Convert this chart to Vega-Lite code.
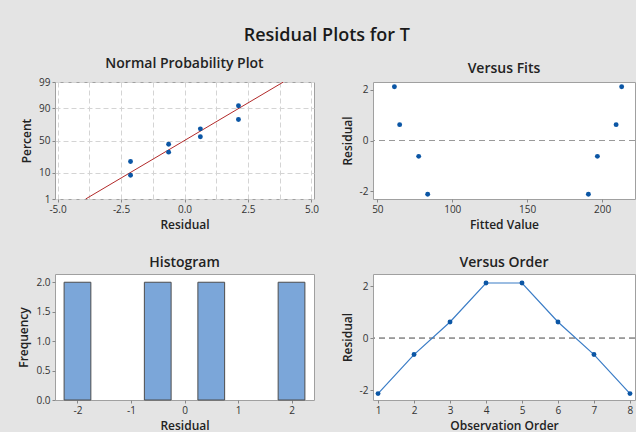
{
  "$schema": "https://vega.github.io/schema/vega-lite/v6.json",
  "background": "#e4e4e4",
  "padding": {"left": 17, "top": 26, "right": 0, "bottom": 0},
  "title": {"text": "Residual Plots for T", "fontSize": 18, "fontWeight": 600, "color": "#1a1a1a", "anchor": "middle", "offset": 12},
  "datasets": {
    "resid": [
      {"order": 1, "fit": 83.6, "residual": -2.125, "z": -0.833, "percent": 20.24},
      {"order": 2, "fit": 77.6, "residual": -0.625, "z": -0.150, "percent": 44.05},
      {"order": 3, "fit": 64.9, "residual": 0.625, "z": 0.150, "percent": 55.95},
      {"order": 4, "fit": 61.4, "residual": 2.125, "z": 0.833, "percent": 79.76},
      {"order": 5, "fit": 213.1, "residual": 2.125, "z": 1.383, "percent": 91.67},
      {"order": 6, "fit": 209.4, "residual": 0.625, "z": 0.464, "percent": 67.86},
      {"order": 7, "fit": 196.9, "residual": -0.625, "z": -0.464, "percent": 32.14},
      {"order": 8, "fit": 190.9, "residual": -2.125, "z": -1.383, "percent": 8.33}
    ],
    "fitline": [
      {"residual": -3.894, "z": -2.3263},
      {"residual": 3.894, "z": 2.3263}
    ],
    "hist": [
      {"bin_start": -2.25, "bin_end": -1.75, "count": 2},
      {"bin_start": -0.75, "bin_end": -0.25, "count": 2},
      {"bin_start": 0.25, "bin_end": 0.75, "count": 2},
      {"bin_start": 1.75, "bin_end": 2.25, "count": 2}
    ]
  },
  "bounds": "flush",
  "columns": 2,
  "spacing": {"row": 75, "column": 59},
  "concat": [
    {
      "width": 259, "height": 117,
      "title": {"text": "Normal Probability Plot", "offset": 6},
      "encoding": {
        "x": {"field": "residual", "type": "quantitative",
          "scale": {"domain": [-5.1, 5.1], "nice": false, "zero": false},
          "axis": {"title": "Residual", "values": [-5, -3.75, -2.5, -1.25, 0, 1.25, 2.5, 3.75, 5],
            "grid": true, "gridDash": [5, 3], "gridColor": "#d4d4d4",
            "labelExpr": "abs(datum.value % 2.5) < 0.01 ? replace(format(datum.value, '.1f'), '\u2212', '-') : ''",
            "tickOpacity": {"condition": {"test": "abs(datum.value % 2.5) < 0.01", "value": 1}, "value": 0}}},
        "y": {"field": "z", "type": "quantitative",
          "scale": {"domain": [-2.3263, 2.3263], "nice": false, "zero": false},
          "axis": {"title": "Percent", "values": [-2.3263, -1.2816, 0, 1.2816, 2.3263],
            "grid": true, "gridDash": [5, 3], "gridColor": "#d4d4d4",
            "labelExpr": "datum.value < -2 ? '1' : datum.value < -1 ? '10' : datum.value < 1 ? '50' : datum.value < 2 ? '90' : '99'"}}
      },
      "layer": [
        {
          "data": {"name": "fitline"},
          "mark": {"type": "line", "color": "#b22a2a", "strokeWidth": 1, "clip": true}
        },
        {
          "data": {"name": "resid"},
          "mark": {"type": "point", "filled": true, "color": "#0b56a5", "size": 24, "opacity": 1}
        }
      ]
    },
    {
      "width": 262, "height": 117,
      "title": {"text": "Versus Fits", "offset": 6},
      "data": {"name": "resid"},
      "layer": [
        {
          "mark": {"type": "rule", "strokeDash": [6, 4], "color": "#999999", "strokeWidth": 1},
          "encoding": {"y": {"datum": 0, "type": "quantitative"}}
        },
        {
          "mark": {"type": "point", "filled": true, "color": "#0b56a5", "size": 24, "opacity": 1},
          "encoding": {
            "x": {"field": "fit", "type": "quantitative",
              "scale": {"domain": [47.1, 222], "nice": false, "zero": false},
              "axis": {"title": "Fitted Value", "values": [50, 100, 150, 200]}},
            "y": {"field": "residual", "type": "quantitative",
              "scale": {"domain": [-2.31, 2.31], "nice": false, "zero": false},
              "axis": {"title": "Residual", "values": [-2, -1, 0, 1, 2], "labelExpr": "'' + datum.value"}}
          }
        }
      ]
    },
    {
      "width": 259, "height": 126,
      "title": {"text": "Histogram", "offset": 4},
      "data": {"name": "hist"},
      "mark": {"type": "bar", "fill": "#7ba6d9", "stroke": "#4d4d4d", "strokeWidth": 1},
      "encoding": {
        "x": {"field": "bin_start", "type": "quantitative",
          "scale": {"domain": [-2.42, 2.42], "nice": false, "zero": false},
          "axis": {"title": "Residual", "values": [-2, -1, 0, 1, 2], "labelExpr": "'' + datum.value"}},
        "x2": {"field": "bin_end"},
        "y": {"field": "count", "type": "quantitative",
          "scale": {"domain": [0, 2.14], "nice": false},
          "axis": {"title": "Frequency", "values": [0, 0.5, 1, 1.5, 2], "format": ".1f"}},
        "y2": {"datum": 0}
      }
    },
    {
      "width": 262, "height": 126,
      "title": {"text": "Versus Order", "offset": 4},
      "data": {"name": "resid"},
      "layer": [
        {
          "mark": {"type": "rule", "strokeDash": [6, 4], "color": "#999999", "strokeWidth": 1},
          "encoding": {"y": {"datum": 0, "type": "quantitative"}}
        },
        {
          "mark": {"type": "line", "color": "#3a7cc6", "strokeWidth": 1.2, "point": {"filled": true, "color": "#0b56a5", "size": 24}},
          "encoding": {
            "x": {"field": "order", "type": "quantitative",
              "scale": {"domain": [0.86, 8.14], "nice": false, "zero": false},
              "axis": {"title": "Observation Order", "values": [1, 2, 3, 4, 5, 6, 7, 8]}},
            "y": {"field": "residual", "type": "quantitative",
              "scale": {"domain": [-2.37, 2.47], "nice": false, "zero": false},
              "axis": {"title": "Residual", "values": [-2, -1, 0, 1, 2], "labelExpr": "'' + datum.value"}}
          }
        }
      ]
    }
  ],
  "config": {
    "font": "Open Sans",
    "view": {"stroke": "#a0a0a0", "fill": "white"},
    "axis": {"domain": false, "grid": false, "labelOverlap": false, "labelFontSize": 10, "labelColor": "#333333", "titleFontSize": 12, "titleFontWeight": 600, "titleColor": "#222222", "tickColor": "#888888", "tickSize": 3, "labelPadding": 2, "titlePadding": 5},
    "title": {"fontSize": 14, "fontWeight": 600, "color": "#222222"}
  }
}
